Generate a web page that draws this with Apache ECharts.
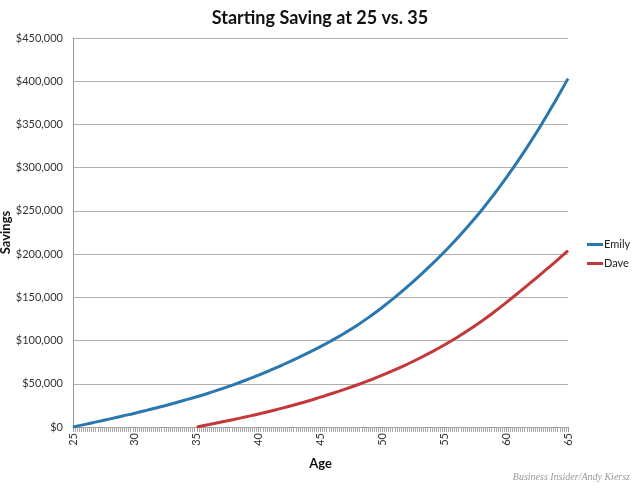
<!DOCTYPE html>
<html>
<head>
<meta charset="utf-8">
<script src="https://cdn.jsdelivr.net/npm/echarts@6/dist/echarts.min.js"></script>
<style>
html,body{margin:0;padding:0;background:#fff;}
#chart{width:640px;height:490px;}
</style>
</head>
<body>
<div id="chart"></div>
<script>
// Values read (estimated) from the reference picture, one per year of age
var emilyAges = [25, 26, 27, 28, 29, 30, 31, 32, 33, 34, 35, 36, 37, 38, 39, 40, 41, 42, 43, 44, 45,
                 46, 47, 48, 49, 50, 51, 52, 53, 54, 55, 56, 57, 58, 59, 60, 61, 62, 63, 64, 65];
var emilyValues = [0, 3000, 6200, 9400, 12700, 16000, 19500, 23100, 26900, 30900, 35000, 39400, 44100, 49100,
                   54400, 60000, 66000, 72300, 78900, 85800, 93000, 100800, 109100, 118100, 127900, 138500,
                   149900, 162000, 174800, 188300, 202500, 217500, 233500, 250500, 268700, 288100, 308700,
                   330500, 353500, 377800, 403000];
var daveAges = [35, 36, 37, 38, 39, 40, 41, 42, 43, 44, 45, 46, 47, 48, 49, 50,
                51, 52, 53, 54, 55, 56, 57, 58, 59, 60, 61, 62, 63, 64, 65];
var daveValues = [0, 2800, 5700, 8700, 11800, 15000, 18500, 22100, 26000, 30100, 34500, 39000, 43800, 48900,
                  54300, 60000, 66100, 72600, 79500, 86900, 94800, 103300, 112400, 122200, 132700, 143900,
                  155400, 167200, 179200, 191400, 204000];
var xTicks = [25, 30, 35, 40, 45, 50, 55, 60, 65];
var yTicks = [0, 50000, 100000, 150000, 200000, 250000, 300000, 350000, 400000, 450000];

function pairs(xs, ys) { return xs.map(function (x, i) { return [x, ys[i]]; }); }
function money(v) { return '$' + String(v).replace(/\B(?=(\d{3})+(?!\d))/g, ','); }

var chart = echarts.init(document.getElementById('chart'));
chart.setOption({
  animation: false,
  backgroundColor: '#fff',
  textStyle: { fontFamily: 'Lato, "Open Sans", sans-serif' },
  title: {
    text: 'Starting Saving at 25 vs. 35',
    left: 'center', top: 4,
    textStyle: { fontFamily: 'Lato, sans-serif', fontWeight: 'bold', fontSize: 18, color: '#111' }
  },
  graphic: [{
    type: 'text', right: 10, top: 472,
    style: { text: 'Business Insider/Andy Kiersz', font: 'italic 10px "Liberation Serif", serif', fill: '#999' }
  }],
  legend: {
    orient: 'vertical', left: 582, top: 234, itemGap: 8,
    itemWidth: 16, itemHeight: 3, icon: 'rect',
    textStyle: { fontSize: 11, color: '#222', padding: [0, 0, 0, -4] },
    data: ['Emily', 'Dave']
  },
  grid: { left: 73, right: 72, top: 38, bottom: 63, containLabel: false, outerBoundsMode: 'none' },
  xAxis: {
    type: 'value', min: xTicks[0], max: xTicks[xTicks.length - 1], interval: 5,
    name: 'Age', nameLocation: 'middle', nameGap: 30, nameMoveOverlap: false,
    nameTextStyle: { fontWeight: 'bold', fontSize: 13, color: '#111' },
    axisLine: { lineStyle: { color: '#9a9a9a', width: 1 } },
    axisTick: { show: true, length: 5, lineStyle: { color: '#999' } },
    minorTick: { show: true, splitNumber: 30, length: 5, lineStyle: { color: '#aaa' } },
    splitLine: { show: false },
    axisLabel: { rotate: 90, fontSize: 11, color: '#333', margin: 6 }
  },
  yAxis: {
    type: 'value', min: yTicks[0], max: yTicks[yTicks.length - 1], interval: 50000,
    name: 'Savings', nameLocation: 'middle', nameGap: 61, nameMoveOverlap: false,
    nameTextStyle: { fontWeight: 'bold', fontSize: 13, color: '#111' },
    axisLine: { show: true, lineStyle: { color: '#9a9a9a' } },
    axisTick: { show: false },
    splitLine: { lineStyle: { color: '#b0b0b0', width: 1 } },
    axisLabel: { fontSize: 11, color: '#333', margin: 10, formatter: money }
  },
  series: [
    {
      name: 'Emily', type: 'line', smooth: true, showSymbol: false,
      data: pairs(emilyAges, emilyValues),
      lineStyle: { color: '#2a78ad', width: 3 }, itemStyle: { color: '#2a78ad' }
    },
    {
      name: 'Dave', type: 'line', smooth: true, showSymbol: false,
      data: pairs(daveAges, daveValues),
      lineStyle: { color: '#c3393a', width: 3 }, itemStyle: { color: '#c3393a' }
    }
  ]
});
</script>
</body>
</html>
